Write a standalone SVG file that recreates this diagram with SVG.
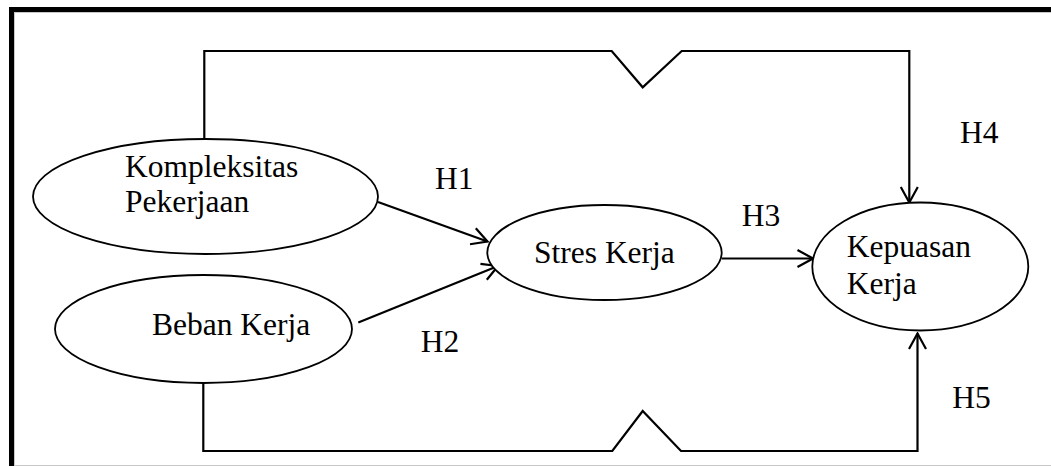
<svg xmlns="http://www.w3.org/2000/svg" width="1051" height="466" viewBox="0 0 1051 466">
<style>
  .node ellipse { fill: #fff; stroke: #000; stroke-width: 1.8; }
  .lbl { font-family: "Liberation Serif", "Times New Roman", serif; font-size: 31.5px; fill: #000; }
  .conn { fill: none; stroke: #000; stroke-width: 2.2; stroke-linejoin: miter; }
  .arr { marker-end: url(#head); }
</style>
<defs>
  <marker id="head" markerWidth="20" markerHeight="20" viewBox="-18 -10 20 20" refX="0" refY="0" orient="auto" markerUnits="userSpaceOnUse">
    <path d="M -15.5 -8.5 L 0 0 L -15.5 8.5" fill="none" stroke="#000" stroke-width="2.2"/>
  </marker>
</defs>
<rect width="1051" height="466" fill="#fff"/>
<g id="frame">
  <line x1="14.5" y1="12" x2="14.5" y2="466" stroke="#c8c8c8" stroke-width="1"/>
  <line x1="14" y1="12.5" x2="1051" y2="12.5" stroke="#c8c8c8" stroke-width="1"/>
  <line x1="14" y1="465.5" x2="1051" y2="465.5" stroke="#c8c8c8" stroke-width="1"/>
  <rect x="9" y="7" width="5" height="459" fill="#000"/>
  <rect x="9" y="7" width="1042" height="5" fill="#000"/>
</g>
<g id="connectors">
  <polyline class="conn arr" points="204.3,139 204.3,51 611.7,51 642.7,87.3 681.7,51 909.3,51 909.3,202.5"/>
  <polyline class="conn arr" points="203.3,383 203.3,451 612.3,451 642.7,411 681,451 917.5,451 917.5,333.5"/>
  <line class="conn arr" x1="378" y1="202" x2="487.5" y2="241.5"/>
  <line class="conn arr" x1="358.3" y1="322.5" x2="498" y2="266"/>
  <line class="conn arr" x1="721.7" y1="258.5" x2="813" y2="258.5"/>
</g>
<g id="node-kompleksitas" class="node">
  <ellipse cx="205.5" cy="196.5" rx="172.5" ry="57.5"/>
  <text class="lbl" x="125" y="177">Kompleksitas</text>
  <text class="lbl" x="125" y="212.3">Pekerjaan</text>
</g>
<g id="node-beban" class="node">
  <ellipse cx="203.5" cy="329" rx="148.5" ry="54"/>
  <text class="lbl" x="152" y="335">Beban Kerja</text>
</g>
<g id="node-stres" class="node">
  <ellipse cx="604.5" cy="252.5" rx="117.2" ry="47.5"/>
  <text class="lbl" x="534" y="263.3">Stres Kerja</text>
</g>
<g id="node-kepuasan" class="node">
  <ellipse cx="920.3" cy="266.5" rx="108" ry="64"/>
  <text class="lbl" x="846.7" y="257.3">Kepuasan</text>
  <text class="lbl" x="846.7" y="294">Kerja</text>
</g>
<g id="labels">
  <text class="lbl" x="435" y="189">H1</text>
  <text class="lbl" x="420.7" y="352.3">H2</text>
  <text class="lbl" x="741.7" y="226">H3</text>
  <text class="lbl" x="960" y="142.7">H4</text>
  <text class="lbl" x="952.3" y="408.3">H5</text>
</g>
</svg>
